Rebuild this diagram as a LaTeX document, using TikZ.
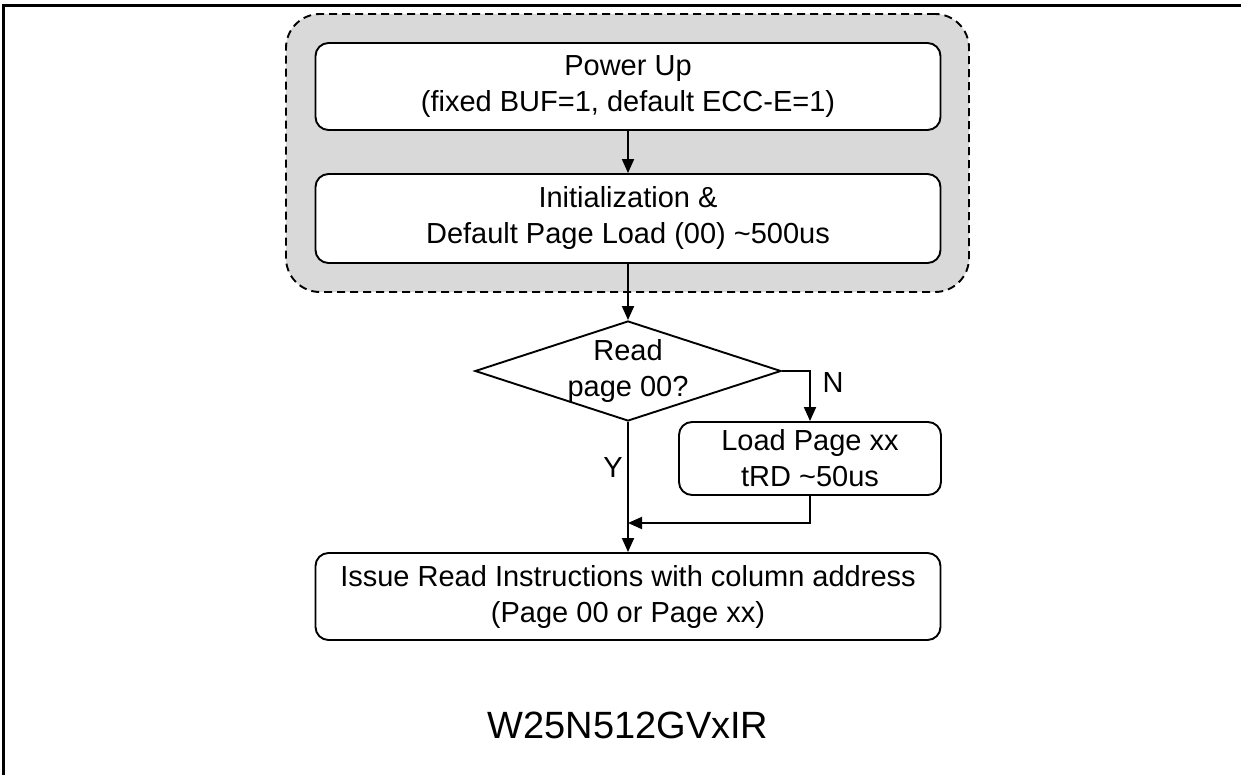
\documentclass[tikz,border=0pt]{standalone}
\usepackage{fontspec}
\setmainfont{Liberation Sans}
\usetikzlibrary{arrows.meta,shapes.geometric}
\begin{document}
\begin{tikzpicture}[x=1pt,y=-1pt,
  line width=1.9pt,
  boxstyle/.style={draw, fill=white, rounded corners=13pt, align=center, inner sep=0pt,
    font=\fontsize{29}{36}\selectfont},
  groupstyle/.style={draw, dashed, dash pattern=on 8pt off 5pt, rounded corners=34pt, fill=black!15, inner sep=0pt},
  decstyle/.style={draw, diamond, inner sep=0pt, minimum width=306pt, minimum height=100pt},
  txt/.style={align=center, inner sep=0pt, font=\fontsize{29}{36}\selectfont},
  arr/.style={-{Triangle[length=14pt,width=12pt]}}
]
\useasboundingbox (0,0) rectangle (1241,775);
% frame (top and left)
\draw[line width=2.8pt] (3.6,775) -- (3.6,5.6) -- (1241,5.6);
% group
\node[groupstyle, minimum width=683pt, minimum height=278pt] (grp) at (627.5,153) {};
% boxes
\node[boxstyle, minimum width=625pt, minimum height=87pt] (pwr) at (628,86.5) {Power Up\\(fixed BUF=1, default ECC-E=1)};
\node[boxstyle, minimum width=625pt, minimum height=89pt] (init) at (628,218.5) {Initialization \&\\Default Page Load (00) \textasciitilde500us};
\node[decstyle] (dec) at (628,371) {};
\node[txt] (dect) at (628,371) {Read\\page 00?};
\node[boxstyle, minimum width=262pt, minimum height=73pt] (load) at (810,458.5) {Load Page xx\\tRD \textasciitilde50us};
\node[boxstyle, minimum width=625pt, minimum height=87pt] (issue) at (628,596.5) {Issue Read Instructions with column address\\(Page 00 or Page xx)};
\node[txt, font=\fontsize{38}{44}\selectfont] (title) at (628,725) {W25N512GVxIR};
% labels
\node[txt] (nlab) at (833,383) {N};
\node[txt] (ylab) at (613,468) {Y};
% connectors
\coordinate (mrg) at (628,523);
\draw[arr] (pwr) -- (init);
\draw[arr] (init) -- (dec);
\draw[arr] (dec.east) -- (dec.east -| load.north) -- (load.north);
\draw[arr] (dec.south) -- (issue.north);
\draw[arr] (load.south) |- (mrg);
\end{tikzpicture}
\end{document}
